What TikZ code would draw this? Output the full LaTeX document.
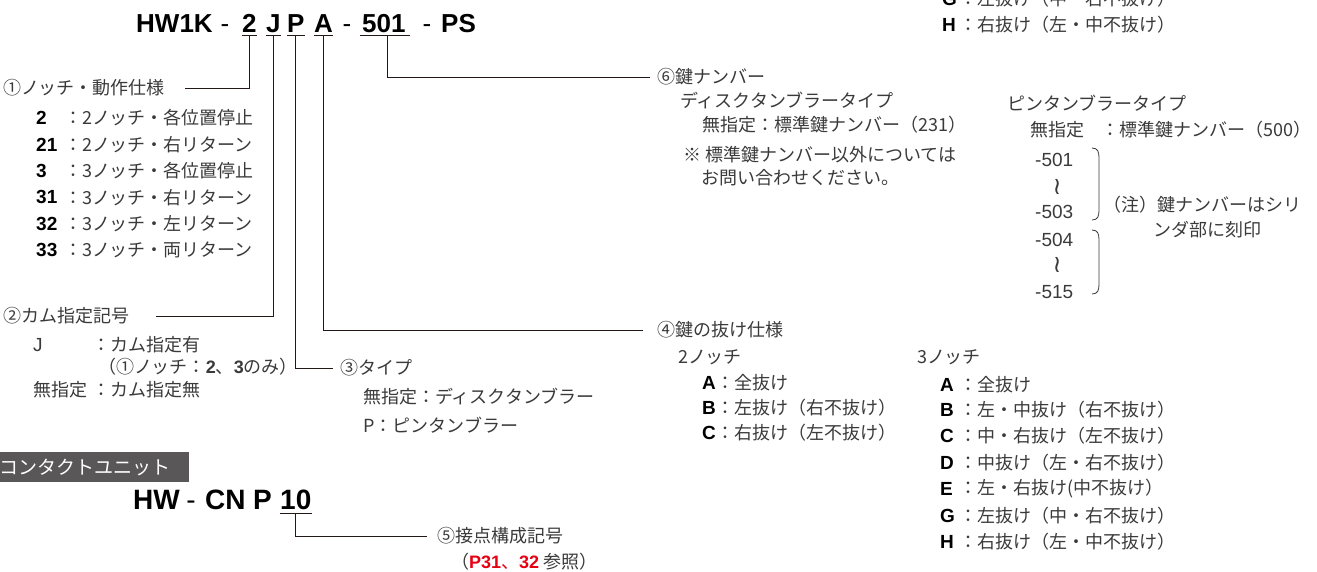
\documentclass[tikz,border=0pt]{standalone}
\usepackage{fontspec}
\setmainfont{Noto Sans CJK JP}
\newfontfamily\hb{Liberation Sans}
\newfontfamily\dv{DejaVu Sans}
\definecolor{ink}{HTML}{231815}
\definecolor{txt}{HTML}{3A3A3A}
\definecolor{hdr}{HTML}{595757}
\definecolor{redp}{HTML}{E60012}
\newcommand{\bn}[1]{{\hb\bfseries #1}}
\begin{document}
\begin{tikzpicture}[x=1pt,y=-1pt,
  ttl/.style={anchor=base west, inner sep=0pt, font=\hb\bfseries\fontsize{26}{26}\selectfont, text=black},
  hyph/.style={anchor=base, inner sep=0pt, font=\hb\fontsize{26}{26}\selectfont, text=black},
  ttlb/.style={anchor=base west, inner sep=0pt, font=\hb\bfseries\fontsize{28}{28}\selectfont, text=black},
  hyphb/.style={anchor=base, inner sep=0pt, font=\hb\fontsize{28}{28}\selectfont, text=black},
  lbl/.style={anchor=west, inner sep=0pt, font=\fontsize{18}{21}\selectfont, text=txt},
  lat/.style={anchor=west, inner sep=0pt, font=\hb\fontsize{19}{21}\selectfont, text=txt},
  num/.style={anchor=west, inner sep=0pt, font=\hb\bfseries\fontsize{19}{21}\selectfont, text=black},
  wavy/.style={inner sep=0pt, font=\dv\fontsize{24}{24}\selectfont, text=txt},
  conn/.style={draw=ink, line width=1pt},
  brk/.style={draw=txt, line width=0.8pt},
]
\useasboundingbox (0,0) rectangle (1317,571);
\clip (0,0) rectangle (1317,571);

% ---------- main code ----------
\node[ttl] (tHW) at (136,32) {HW1K};
\node[hyph] (h1) at (225,32) {-};
\node[ttl] (t2) at (242,32) {2};
\node[ttl] (tJ) at (266,32) {J};
\node[ttl] (tP) at (287,32) {P};
\node[ttl] (tA) at (314,32) {A};
\node[hyph] (h2) at (347,32) {-};
\node[ttl] (t501) at (362,32) {501};
\node[hyph] (h3) at (427,32) {-};
\node[ttl] (tPS) at (441,32) {PS};
\foreach \n in {t2,tJ,tP,tA}
  \draw[conn] ([yshift=-3pt]\n.base west) -- ([yshift=-3pt]\n.base east);
\draw[conn] ([shift={(-2pt,-3pt)}]t501.base west) -- ([shift={(4pt,-3pt)}]t501.base east);

% ---------- (1) ----------
\node[lbl] (l1) at (3,88) {①ノッチ・動作仕様};
\node[num] (n11) at (36,118) {2};   \node[lbl] (d11) at (64,118) {：2ノッチ・各位置停止};
\node[num] (n12) at (36,144.4) {21};  \node[lbl] (d12) at (64,144.4) {：2ノッチ・右リターン};
\node[num] (n13) at (36,170.8) {3};   \node[lbl] (d13) at (64,170.8) {：3ノッチ・各位置停止};
\node[num] (n14) at (36,197.2) {31};  \node[lbl] (d14) at (64,197.2) {：3ノッチ・右リターン};
\node[num] (n15) at (36,223.6) {32};  \node[lbl] (d15) at (64,223.6) {：3ノッチ・左リターン};
\node[num] (n16) at (36,250) {33};    \node[lbl] (d16) at (64,250) {：3ノッチ・両リターン};

% ---------- (2) ----------
\node[lbl] (l2) at (3,316) {②カム指定記号};
\node[lat] (n21) at (33,345) {J};   \node[lbl] (d21) at (92,345) {：カム指定有};
\node[lbl] (d22) at (98,367) {（①ノッチ：\bn{2}、\bn{3}のみ）};
\node[lbl] (n23) at (33,390) {無指定};  \node[lbl] (d23) at (92,390) {：カム指定無};

% ---------- (3) ----------
\node[lbl] (l3) at (340,368) {③タイプ};
\node[lbl] (d31) at (363,397) {無指定：ディスクタンブラー};
\node[lbl] (d32) at (363,425) {P：ピンタンブラー};

% ---------- (4) ----------
\node[lbl] (l4) at (657,330) {④鍵の抜け仕様};
\node[lbl] (k2) at (678,357) {2ノッチ};
\node[num] (a1) at (702,383) {A}; \node[lbl] (b1) at (716,383) {：全抜け};
\node[num] (a2) at (702,408) {B}; \node[lbl] (b2) at (716,408) {：左抜け（右不抜け）};
\node[num] (a3) at (702,433) {C}; \node[lbl] (b3) at (716,433) {：右抜け（左不抜け）};
\node[lbl] (k3) at (917,357) {3ノッチ};
\node[num] (c1) at (940,385) {A}; \node[lbl] (e1) at (959,385) {：全抜け};
\node[num] (c2) at (940,410) {B}; \node[lbl] (e2) at (959,410) {：左・中抜け（右不抜け）};
\node[num] (c3) at (940,436) {C}; \node[lbl] (e3) at (959,436) {：中・右抜け（左不抜け）};
\node[num] (c4) at (940,463) {D}; \node[lbl] (e4) at (959,463) {：中抜け（左・右不抜け）};
\node[num] (c5) at (940,489) {E}; \node[lbl] (e5) at (959,489) {：左・右抜け(中不抜け）};
\node[num] (c6) at (940,516) {G}; \node[lbl] (e6) at (959,516) {：左抜け（中・右不抜け）};
\node[num] (c7) at (940,542) {H}; \node[lbl] (e7) at (959,542) {：右抜け（左・中不抜け）};

% cut-off rows at the top
\node[num] (g0) at (942,-1) {G}; \node[lbl] (f0) at (959,-1) {：左抜け（中・右不抜け）};
\node[num] (g1) at (942,25) {H}; \node[lbl] (f1) at (959,25) {：右抜け（左・中不抜け）};

% ---------- (6) ----------
\node[lbl] (l6) at (657,77) {⑥鍵ナンバー};
\node[lbl] (p1) at (680,100) {ディスクタンブラータイプ};
\node[lbl] (p2) at (702,125) {無指定：標準鍵ナンバー（231）};
\node[lbl] (p3) at (683,155) {※ 標準鍵ナンバー以外については};
\node[lbl] (p4) at (701,178) {お問い合わせください。};
\node[lbl] (q1) at (1007,103) {ピンタンブラータイプ};
\node[lbl] (q2) at (1030,130) {無指定};
\node[lbl] (q3) at (1101,130) {：標準鍵ナンバー（500）};
\node[lat] (r1) at (1035,160) {-501};
\node[wavy] (w1) at (1057,187) {≀};
\node[lat] (r2) at (1035,212) {-503};
\node[lat] (r3) at (1035,240) {-504};
\node[wavy] (w2) at (1057,265) {≀};
\node[lat] (r4) at (1035,292) {-515};
\draw[brk] (1092,148) .. controls (1098,148) and (1099,152) .. (1099,158) -- (1099,210) .. controls (1099,216) and (1098,220) .. (1092,220);
\draw[brk] (1092,230) .. controls (1098,230) and (1099,234) .. (1099,240) -- (1099,284) .. controls (1099,290) and (1098,294) .. (1092,294);
\node[lbl] (s1) at (1103,205) {（注）鍵ナンバーはシリ};
\node[lbl] (s2) at (1153,230) {ンダ部に刻印};

% ---------- connectors ----------
\draw[conn] ([yshift=-3pt]t2.south) |- ([xshift=20pt]l1.east);
\draw[conn] ([yshift=-3pt]tJ.south) |- ([xshift=27pt]l2.east);
\draw[conn] ([yshift=-3pt]tP.south) |- ([xshift=-7pt]l3.west);
\draw[conn] ([yshift=-3pt]tA.south) |- ([xshift=-14pt]l4.west);
\draw[conn] ([shift={(4pt,-3pt)}]t501.south) |- ([xshift=-7pt]l6.west);

% ---------- contact unit ----------
\fill[hdr] (0,452) rectangle (189,482);
\node[anchor=west, inner sep=0pt, font=\fontsize{19}{20}\selectfont, text=white] (hd) at (-1,467) {コンタクトユニット};
\node[ttlb] (uHW) at (133,509) {HW};
\node[hyphb] (u1) at (191,509) {-};
\node[ttlb] (uCN) at (205,509) {CN};
\node[ttlb] (uP) at (253,509) {P};
\node[ttlb] (u10) at (280,509) {10};
\draw[conn] ([yshift=-4pt]u10.base west) -- ([yshift=-4pt]u10.base east);
\node[lbl] (l5) at (437,536) {⑤接点構成記号};
\node[lbl] (l5b) at (451,562) {（{\hb\bfseries\color{redp}P31}{\color{redp}、}{\hb\bfseries\color{redp}32} 参照）};
\draw[conn] ([yshift=-4pt]u10.south) |- ([xshift=-10pt]l5.west);
\end{tikzpicture}
\end{document}
